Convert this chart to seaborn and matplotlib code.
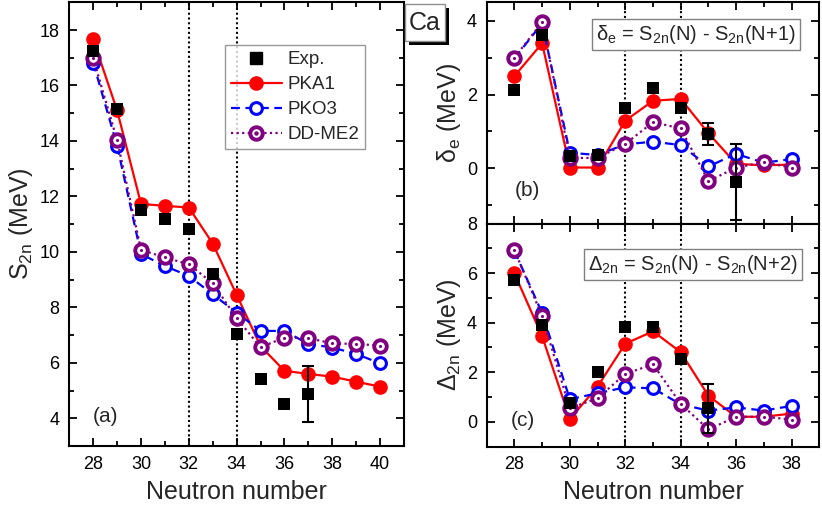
import numpy as np
import pandas as pd
import matplotlib
matplotlib.use("Agg")
import matplotlib.pyplot as plt
import seaborn as sns
from matplotlib.lines import Line2D
from matplotlib.patches import Rectangle
from matplotlib.ticker import MultipleLocator

# ---------------- data ----------------
N_a = [28, 29, 30, 31, 32, 33, 34, 35, 36, 37, 38, 39, 40]
N_a_exp = [28, 29, 30, 31, 32, 33, 34, 35, 36, 37]
s2n_exp = [17.25, 15.14, 11.51, 11.18, 10.82, 9.2, 7.03, 5.41, 4.5, 4.87]
s2n_exp_err = [0, 0, 0, 0, 0, 0, 0, 0, 0.1, 1.0]
s2n_pka1 = [17.66, 15.1, 11.73, 11.66, 11.6, 10.3, 8.45, 6.6, 5.71, 5.6, 5.5, 5.32, 5.14]
s2n_pko3 = [16.82, 13.83, 9.92, 9.49, 9.13, 8.47, 7.81, 7.15, 7.15, 6.68, 6.55, 6.32, 5.98]
s2n_ddme2 = [16.98, 14.03, 10.07, 9.8, 9.55, 8.87, 7.61, 6.56, 6.91, 6.89, 6.7, 6.68, 6.62]

N_bc = [28, 29, 30, 31, 32, 33, 34, 35, 36, 37, 38]
N_b_exp = [28, 29, 30, 31, 32, 33, 34, 35, 36]
de_exp = [2.12, 3.61, 0.33, 0.36, 1.63, 2.19, 1.64, 0.92, -0.37]
de_exp_err = [0, 0, 0, 0, 0, 0, 0, 0.3, 1.03]
de_pka1 = [2.5, 3.39, 0.02, 0.02, 1.29, 1.83, 1.88, 0.95, 0.12, 0.08, 0.1]
de_pko3 = [2.98, 3.93, 0.42, 0.36, 0.65, 0.72, 0.63, 0.05, 0.39, 0.15, 0.25]
de_ddme2 = [3.0, 3.96, 0.28, 0.28, 0.66, 1.25, 1.08, -0.35, 0.02, 0.16, 0.02]

N_c_exp = [28, 29, 30, 31, 32, 33, 34, 35]
d2n_exp = [5.72, 3.92, 0.74, 2.0, 3.82, 3.82, 2.53, 0.54]
d2n_exp_err = [0, 0, 0, 0, 0, 0, 0, 1.0]
d2n_pka1 = [5.99, 3.45, 0.11, 1.42, 3.15, 3.65, 2.81, 1.05, 0.2, 0.2, 0.33]
d2n_pko3 = [6.9, 4.39, 0.91, 1.15, 1.39, 1.35, 0.7, 0.45, 0.58, 0.45, 0.64]
d2n_ddme2 = [6.93, 4.26, 0.54, 0.95, 1.93, 2.32, 0.72, -0.31, 0.2, 0.2, 0.09]

labels = ["Exp.", "PKA1", "PKO3", "DD-ME2"]

# ---------------- style ----------------
sns.set_theme(style="ticks")
plt.rcParams["font.family"] = ["Liberation Sans", "DejaVu Sans"]
plt.rcParams["mathtext.fontset"] = "custom"
plt.rcParams["mathtext.rm"] = "Liberation Sans"
plt.rcParams["mathtext.it"] = "Liberation Sans:italic"
plt.rcParams["axes.linewidth"] = 1.5

RED, BLUE, PURPLE = "#ff0000", "#0000ff", "#800080"

fig = plt.figure(figsize=(8.22, 5.13), dpi=100)
W, H = 822.0, 513.0
def ax_at(x0, y0, x1, y1):
    return fig.add_axes([x0 / W, 1 - y1 / H, (x1 - x0) / W, (y1 - y0) / H])

ax_a = ax_at(69.3, 2.3, 404, 446)
ax_b = ax_at(486.7, 2.3, 819.3, 223.6)
ax_c = ax_at(486.7, 223.6, 819.3, 446.5)


def draw(ax, N, pka1, pko3, ddme2, Nexp, exp, err):
    sns.lineplot(x=N, y=pka1, ax=ax, color=RED, lw=1.6, ls="-", marker="o",
                 ms=9.5, mfc=RED, mec=RED, mew=1, zorder=3, legend=False)
    sns.lineplot(x=N, y=pko3, ax=ax, color=BLUE, lw=1.6, ls=(0, (4, 2.5)),
                 marker="o", ms=8.5, mfc="white", mec=BLUE, mew=2.2,
                 zorder=4, legend=False)
    sns.lineplot(x=N, y=ddme2, ax=ax, color=PURPLE, lw=1.6, ls=(0, (1, 1.5)),
                 marker="o", ms=9, mfc="white", mec=PURPLE, mew=2.8,
                 zorder=5, legend=False)
    sns.scatterplot(x=N, y=ddme2, ax=ax, color=PURPLE, marker="o", s=5,
                    linewidth=0, zorder=6, legend=False)
    sns.scatterplot(x=Nexp, y=exp, ax=ax, color="black", marker="s", s=82,
                    linewidth=0, zorder=7, legend=False)
    e = np.array(err)
    m = e > 0
    ax.errorbar(np.array(Nexp)[m], np.array(exp)[m], yerr=e[m], fmt="none",
                ecolor="black", elinewidth=1.5, capsize=4.5, capthick=1.5,
                zorder=7)
    for xv in (32, 34):
        ax.axvline(xv, color="black", ls=(0, (1, 1.3)), lw=1.5, zorder=1)
    ax.set_xlim(27, 39 if ax is not ax_a else 41)
    ax.xaxis.set_major_locator(MultipleLocator(2))
    ax.xaxis.set_minor_locator(MultipleLocator(1))
    ax.yaxis.set_major_locator(MultipleLocator(2))
    ax.yaxis.set_minor_locator(MultipleLocator(1))
    ax.tick_params(which="both", direction="in", top=True, right=True,
                   labelsize=13, width=1.3, colors="black", pad=7)
    ax.tick_params(which="major", length=6)
    ax.tick_params(which="minor", length=3.5)
    ax.set_xlabel("")
    ax.set_ylabel("")
    for s in ax.spines.values():
        s.set_linewidth(1.5)
        s.set_color("black")


draw(ax_a, N_a, s2n_pka1, s2n_pko3, s2n_ddme2, N_a_exp, s2n_exp, s2n_exp_err)
draw(ax_b, N_bc, de_pka1, de_pko3, de_ddme2, N_b_exp, de_exp, de_exp_err)
draw(ax_c, N_bc, d2n_pka1, d2n_pko3, d2n_ddme2, N_c_exp, d2n_exp, d2n_exp_err)

ax_a.set_ylim(3, 19)
ax_b.set_ylim(-1.5, 4.5)
ax_c.set_ylim(-1, 8)
ax_b.tick_params(labelbottom=False)

ax_a.set_xlabel("Neutron number", fontsize=18, labelpad=5)
ax_c.set_xlabel("Neutron number", fontsize=18, labelpad=5)
ax_a.set_ylabel(r"S$_\mathregular{2n}$ (MeV)", fontsize=18, labelpad=3)
ax_b.set_ylabel(r"δ$_\mathregular{e}$ (MeV)", fontsize=18, labelpad=3)
ax_c.set_ylabel(r"Δ$_\mathregular{2n}$ (MeV)", fontsize=18, labelpad=3)

ax_a.text(28.0, 4.05, "(a)", fontsize=15, ha="left", va="center")
ax_b.text(28.0, -0.6, "(b)", fontsize=15, ha="left", va="center")
ax_c.text(27.85, 0.05, "(c)", fontsize=15, ha="left", va="center")

box = dict(boxstyle="square,pad=0.2", fc="white", ec="#808080", lw=1)
ax_b.text(0.93, 0.855, r"δ$_\mathregular{e}$ = S$_\mathregular{2n}$(N) - S$_\mathregular{2n}$(N+1)",
          transform=ax_b.transAxes, fontsize=14.5, ha="right", va="center", bbox=box)
ax_c.text(0.935, 0.815, r"Δ$_\mathregular{2n}$ = S$_\mathregular{2n}$(N) - S$_\mathregular{2n}$(N+2)",
          transform=ax_c.transAxes, fontsize=14.5, ha="right", va="center", bbox=box)

# legend
handles = [
    Line2D([], [], ls="none", marker="s", ms=8.5, mfc="black", mec="black"),
    Line2D([], [], color=RED, lw=1.6, marker="o", ms=9.5, mfc=RED, mec=RED),
    Line2D([], [], color=BLUE, lw=1.6, ls=(0, (4, 2.5)), marker="o", ms=8.5,
           mfc="white", mec=BLUE, mew=2.2),
    (Line2D([], [], color=PURPLE, lw=1.6, ls=(0, (1, 1.5)), marker="o", ms=9,
            mfc="white", mec=PURPLE, mew=2.8),
     Line2D([], [], ls="none", marker="o", ms=2.2, color=PURPLE)),
]
leg = ax_a.legend(handles, labels, loc="upper left",
                  bbox_to_anchor=(0.465, 0.903), fontsize=13.5, frameon=True,
                  fancybox=False, edgecolor="#808080", handlelength=2.75,
                  labelspacing=0.42, borderpad=0.3, handletextpad=0.3,
                  borderaxespad=0)
leg.get_frame().set_linewidth(1.0)

# "Ca" label box with shadow
fig.patches.append(Rectangle((409 / W, 1 - 45 / H), 40 / W, 37 / H,
                             transform=fig.transFigure, fc="black", ec="none",
                             zorder=10))
fig.patches.append(Rectangle((405 / W, 1 - 41 / H), 40 / W, 37 / H,
                             transform=fig.transFigure, fc="white", ec="#909090",
                             lw=1, zorder=11))
fig.text(425 / W, 1 - 22.5 / H, "Ca", fontsize=18, ha="center", va="center",
         zorder=12)

fig.savefig("out.png", dpi=100)
